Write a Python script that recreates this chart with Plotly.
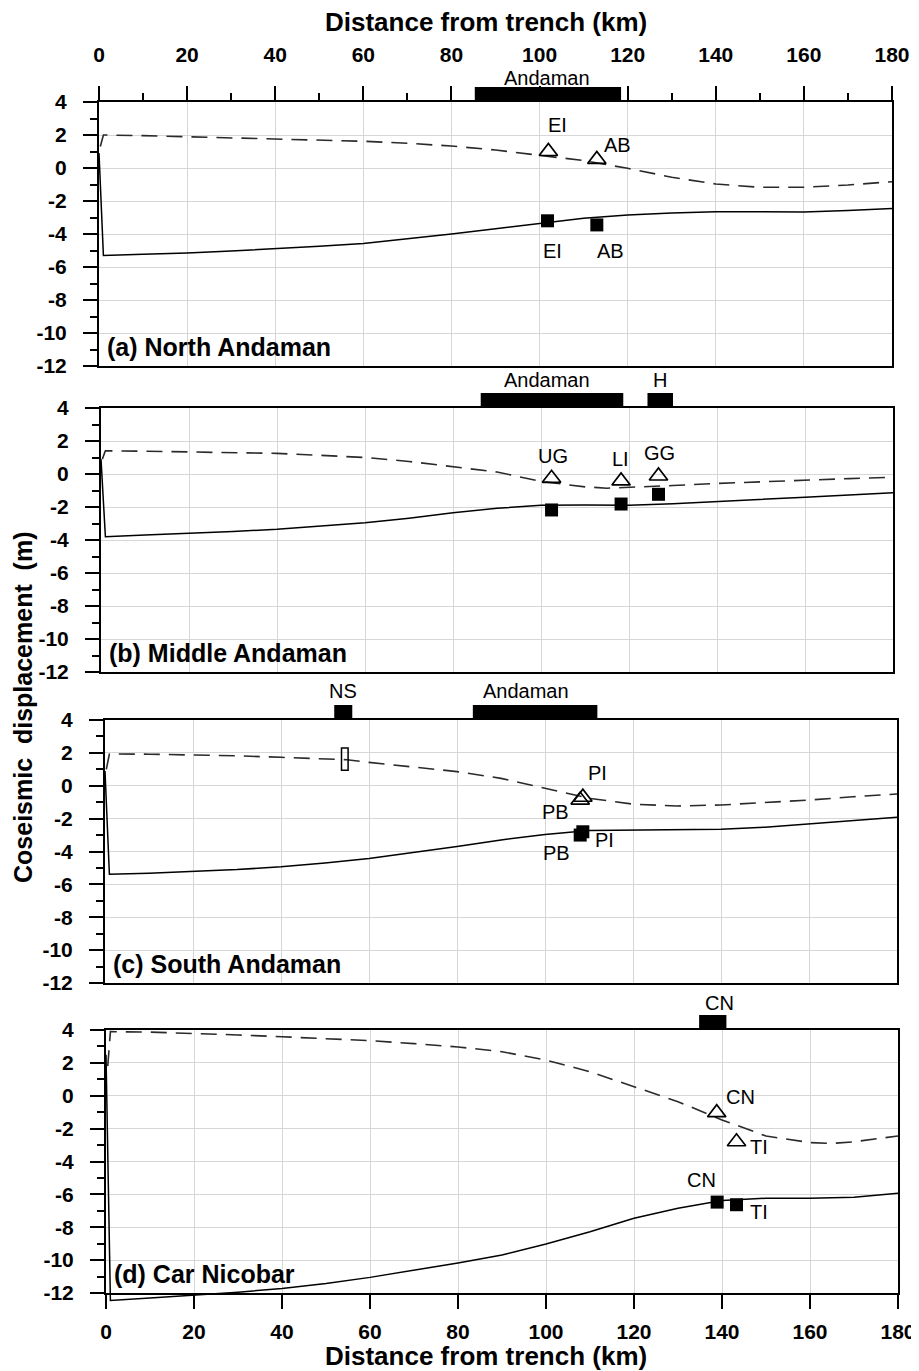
import plotly.graph_objects as go

PAGE_W, PAGE_H = 919, 1371
OFF = 8  # default page body margin
W, H = PAGE_W - OFF, PAGE_H - OFF

# ---------------- data ----------------
XMIN, XMAX = 0, 180
YMIN, YMAX = -12, 4

x_ticks = [0, 20, 40, 60, 80, 100, 120, 140, 160, 180]
x_tick_labels = [str(v) for v in x_ticks]
y_ticks = [4, 2, 0, -2, -4, -6, -8, -10, -12]
y_tick_labels = [str(v) for v in y_ticks]

panel_titles = ["(a) North Andaman", "(b) Middle Andaman", "(c) South Andaman", "(d) Car Nicobar"]

# solid curves
solid_x = [0, 1, 10, 20, 30, 40, 50, 60, 70, 80, 90, 100, 110, 120, 130, 140, 150, 160, 170, 180]
solid_a = [0.9, -5.3, -5.22, -5.15, -5.03, -4.9, -4.75, -4.57, -4.3, -4.0, -3.68, -3.35, -3.05, -2.85,
           -2.72, -2.65, -2.65, -2.66, -2.57, -2.45]
solid_b = [0.9, -3.8, -3.7, -3.6, -3.48, -3.35, -3.17, -2.95, -2.68, -2.35, -2.08, -1.9, -1.88, -1.9,
           -1.8, -1.68, -1.55, -1.41, -1.27, -1.13]
solid_c = [0.9, -5.39, -5.32, -5.23, -5.1, -4.93, -4.7, -4.42, -4.07, -3.7, -3.3, -2.96, -2.72, -2.69,
           -2.68, -2.65, -2.52, -2.33, -2.13, -1.92]
solid_d = [2.5, -12.45, -12.3, -12.12, -11.95, -11.72, -11.42, -11.05, -10.63, -10.17, -9.69, -9.02,
           -8.27, -7.45, -6.84, -6.38, -6.23, -6.23, -6.17, -5.93]

# dashed curves
dashed_x_a = [0.3, 1, 10, 20, 30, 40, 50, 60, 70, 80, 90, 100, 110, 120, 130, 140, 150, 160, 170, 180]
dashed_a = [1.3, 2.0, 1.96, 1.9, 1.83, 1.75, 1.7, 1.62, 1.5, 1.33, 1.09, 0.79, 0.45, -0.02, -0.56,
            -0.97, -1.17, -1.17, -1.03, -0.83]
dashed_x_b = [0.3, 1, 10, 20, 30, 40, 50, 60, 70, 80, 90, 100, 110, 115, 120, 130, 140, 150, 160, 170, 180]
dashed_b = [0.9, 1.41, 1.38, 1.35, 1.3, 1.25, 1.13, 1.0, 0.76, 0.44, 0.12, -0.45, -0.78, -0.86, -0.82,
            -0.7, -0.57, -0.46, -0.36, -0.28, -0.2]
dashed_x_c = [0.3, 1, 10, 20, 30, 40, 50, 55, 60, 70, 80, 90, 100, 110, 120, 130, 140, 150, 160, 170, 180]
dashed_c = [1.0, 1.93, 1.92, 1.89, 1.82, 1.73, 1.66, 1.58, 1.42, 1.15, 0.86, 0.45, -0.16, -0.76, -1.12,
            -1.23, -1.17, -1.03, -0.87, -0.67, -0.5]
dashed_x_d = [0.4, 1, 10, 20, 30, 40, 50, 60, 70, 80, 90, 100, 110, 120, 130, 140, 150, 160, 165, 170, 180]
dashed_d = [1.8, 3.9, 3.87, 3.8, 3.7, 3.59, 3.48, 3.35, 3.17, 2.97, 2.68, 2.17, 1.46, 0.55, -0.36,
            -1.47, -2.45, -2.85, -2.9, -2.8, -2.45]

# observed stations: triangles (open) and squares (filled)
tri_a_x = [102, 113];        tri_a_y = [1.0, 0.52]
sq_a_x = [101.8, 113];       sq_a_y = [-3.2, -3.45]
tri_b_x = [102.4, 118.2, 126.7]; tri_b_y = [-0.26, -0.42, -0.12]
sq_b_x = [102.4, 118.2, 126.7];  sq_b_y = [-2.18, -1.82, -1.23]
tri_c_x = [108, 108.6];      tri_c_y = [-0.87, -0.7]
sq_c_x = [108, 108.6];       sq_c_y = [-3.0, -2.8]
tri_d_x = [138.8, 143.3];    tri_d_y = [-1.03, -2.8]
sq_d_x = [138.9, 143.3];     sq_d_y = [-6.47, -6.63]

# North Sentinel (NS) uplift range, panel c
ns_x = 54.5
ns_low, ns_high = 0.95, 2.3

# station labels: (text, x, y)
labels_a = [("EI", 104, 2.6), ("AB", 117.6, 1.4), ("EI", 103, -5.0), ("AB", 116, -5.0)]
labels_b = [("UG", 102.8, 1.09), ("LI", 118, 0.89), ("GG", 127, 1.29)]
labels_c = [("PI", 111.9, 0.8), ("PB", 102.3, -1.58), ("PI", 113.5, -3.3), ("PB", 102.7, -4.07)]
labels_d = [("CN", 144.3, -0.1), ("TI", 148.3, -3.1), ("CN", 135.4, -5.1), ("TI", 148.3, -7.1)]

# island extents above each panel: (name, start km, end km, label km)
islands_a = [("Andaman", 85.3, 118.5, 101.8)]
islands_b = [("Andaman", 86.3, 118.7, 101.3), ("H", 124.2, 130.0, 127.0)]
islands_c = [("NS", 52.1, 56.2, 54.0), ("Andaman", 83.6, 111.9, 95.7)]
islands_d = [("CN", 134.8, 141.0, 139.5)]

# ---------------- layout geometry (page px) ----------------
panels_px = [(99, 892, 102, 366), (101, 893, 408, 672), (105, 897, 720, 983), (106, 898, 1030, 1293)]
island_label_offset = [24, 28, 29, 27]


def px_x(p):
    return (p - OFF) / W


def px_y(p):
    return 1 - (p - OFF) / H


FONT = "Liberation Sans"
tickfont = dict(family=FONT, size=21, color="black", weight="bold")
LABEL_FONT = dict(family=FONT, size=20, color="black")
GRID = "#d6d6d6"

fig = go.Figure()
layout = dict(width=W, height=H, margin=dict(l=0, r=0, t=0, b=0, pad=0, autoexpand=False), autosize=False,
              paper_bgcolor="white", plot_bgcolor="rgba(0,0,0,0)", showlegend=False,
              shapes=[], annotations=[])

solids = [solid_a, solid_b, solid_c, solid_d]
dasheds = [(dashed_x_a, dashed_a), (dashed_x_b, dashed_b), (dashed_x_c, dashed_c), (dashed_x_d, dashed_d)]
tris = [(tri_a_x, tri_a_y), (tri_b_x, tri_b_y), (tri_c_x, tri_c_y), (tri_d_x, tri_d_y)]
sqs = [(sq_a_x, sq_a_y), (sq_b_x, sq_b_y), (sq_c_x, sq_c_y), (sq_d_x, sq_d_y)]
labels = [labels_a, labels_b, labels_c, labels_d]
islands = [islands_a, islands_b, islands_c, islands_d]

for i, (l, r, t, b) in enumerate(panels_px):
    n = i + 1
    xk = "xaxis" if n == 1 else f"xaxis{n}"
    yk = "yaxis" if n == 1 else f"yaxis{n}"
    xr = "x" if n == 1 else f"x{n}"
    yr = "y" if n == 1 else f"y{n}"
    xa = dict(domain=[px_x(l), px_x(r)], range=[XMIN, XMAX], anchor=yr, automargin=False,
              showline=True, linewidth=2, linecolor="black", mirror=True,
              showgrid=True, gridcolor=GRID, gridwidth=1, zeroline=False,
              tickvals=x_ticks, ticktext=x_tick_labels, tickfont=tickfont)
    if n == 1:
        xa.update(side="top", ticks="outside", ticklen=14, tickwidth=2, tickcolor="black",
                  ticklabelstandoff=16,
                  minor=dict(dtick=10, ticks="outside", ticklen=7, tickwidth=2,
                             tickcolor="black", showgrid=False))
    elif n == 4:
        xa.update(side="bottom", ticks="outside", ticklen=14, tickwidth=2, tickcolor="black",
                  ticklabelstandoff=5)
    else:
        xa.update(ticks="", showticklabels=False)
    ya = dict(domain=[px_y(b), px_y(t)], range=[YMIN, YMAX], anchor=xr, automargin=False,
              showline=True, linewidth=2, linecolor="black", mirror=True,
              showgrid=True, gridcolor=GRID, gridwidth=1, zeroline=False,
              tickvals=y_ticks, ticktext=y_tick_labels, tickfont=tickfont,
              ticks="outside", ticklen=14, tickwidth=2, tickcolor="black", ticklabelstandoff=12,
              minor=dict(dtick=1, ticks="outside", ticklen=7, tickwidth=2,
                         tickcolor="black", showgrid=False))
    layout[xk] = xa
    layout[yk] = ya

    # dashed curve
    dx, dy = dasheds[i]
    fig.add_trace(go.Scatter(x=dx, y=dy, mode="lines", xaxis=xr, yaxis=yr,
                             line=dict(color="#2a2a2a", width=1.6, dash="16px,9px")))
    # solid curve (panel d uses an extended, invisible subplot so the line can dip under the frame)
    if n == 4:
        fig.add_trace(go.Scatter(x=solid_x, y=solids[i], mode="lines", xaxis="x5", yaxis="y5",
                                 line=dict(color="black", width=1.5)))
    else:
        fig.add_trace(go.Scatter(x=solid_x, y=solids[i], mode="lines", xaxis=xr, yaxis=yr,
                                 line=dict(color="black", width=1.5)))
    # stations
    tx, ty = tris[i]
    fig.add_trace(go.Scatter(x=tx, y=ty, mode="markers", xaxis=xr, yaxis=yr, cliponaxis=False,
                             marker=dict(symbol="triangle-up-open", size=16, color="black",
                                         line=dict(width=1.7, color="black"))))
    sx, sy = sqs[i]
    fig.add_trace(go.Scatter(x=sx, y=sy, mode="markers", xaxis=xr, yaxis=yr, cliponaxis=False,
                             marker=dict(symbol="square", size=13, color="black",
                                         line=dict(width=0))))
    for txt, lx, ly in labels[i]:
        layout["annotations"].append(dict(text=txt, x=lx, y=ly, xref=xr, yref=yr, showarrow=False,
                                          xanchor="center", yanchor="middle", font=LABEL_FONT))
    # island bars above frame
    bar_h = 15 / (b - t)
    for name, x0, x1, lxk in islands[i]:
        layout["shapes"].append(dict(type="rect", xref=f"{xr} domain", yref=f"{yr} domain",
                                     x0=(x0 - XMIN) / (XMAX - XMIN), x1=(x1 - XMIN) / (XMAX - XMIN),
                                     y0=1, y1=1 + bar_h, fillcolor="black", line=dict(width=0),
                                     layer="above"))
        layout["annotations"].append(dict(text=name, x=lxk, xref=xr,
                                          y=1 + island_label_offset[i] / (b - t),
                                          yref=f"{yr} domain", showarrow=False,
                                          xanchor="center", yanchor="middle", font=LABEL_FONT))
    # panel title
    layout["annotations"].append(dict(text=panel_titles[i], x=px_x(l + 6), y=px_y(b - 19),
                                      xref="paper", yref="paper", xanchor="left", yanchor="middle",
                                      showarrow=False,
                                      font=dict(family=FONT, size=25, color="black", weight="bold")))

# NS range box (panel c)
layout["shapes"].append(dict(type="rect", xref="x3", yref="y3", x0=ns_x - 0.75, x1=ns_x + 0.75,
                             y0=ns_low, y1=ns_high, line=dict(color="black", width=1.5),
                             fillcolor="rgba(0,0,0,0)"))

# extended invisible subplot for panel d's solid line
l, r, t, b = panels_px[3]
ext = 14
layout["xaxis5"] = dict(domain=[px_x(l), px_x(r)], range=[XMIN, XMAX], visible=False, anchor="y5",
                        automargin=False)
layout["yaxis5"] = dict(domain=[px_y(b + ext), px_y(t)], automargin=False,
                        range=[YMIN - ext * (YMAX - YMIN) / (b - t), YMAX], visible=False, anchor="x5")

# axis titles
title_font = dict(family=FONT, size=26, color="black", weight="bold")
layout["annotations"].append(dict(text="Distance from trench (km)", x=px_x(486), y=px_y(22),
                                  xref="paper", yref="paper", showarrow=False,
                                  xanchor="center", yanchor="middle", font=title_font))
layout["annotations"].append(dict(text="Distance from trench (km)", x=px_x(486), y=px_y(1356),
                                  xref="paper", yref="paper", showarrow=False,
                                  xanchor="center", yanchor="middle", font=title_font))
layout["annotations"].append(dict(text="Coseismic\u00a0\u00a0displacement\u00a0\u00a0(m)",
                                  x=px_x(23), y=px_y(707), xref="paper", yref="paper",
                                  showarrow=False, textangle=-90, xanchor="center", yanchor="middle",
                                  font=dict(family=FONT, size=25, color="black", weight="bold")))

fig.update_layout(**layout)
fig.write_html("out.html")
